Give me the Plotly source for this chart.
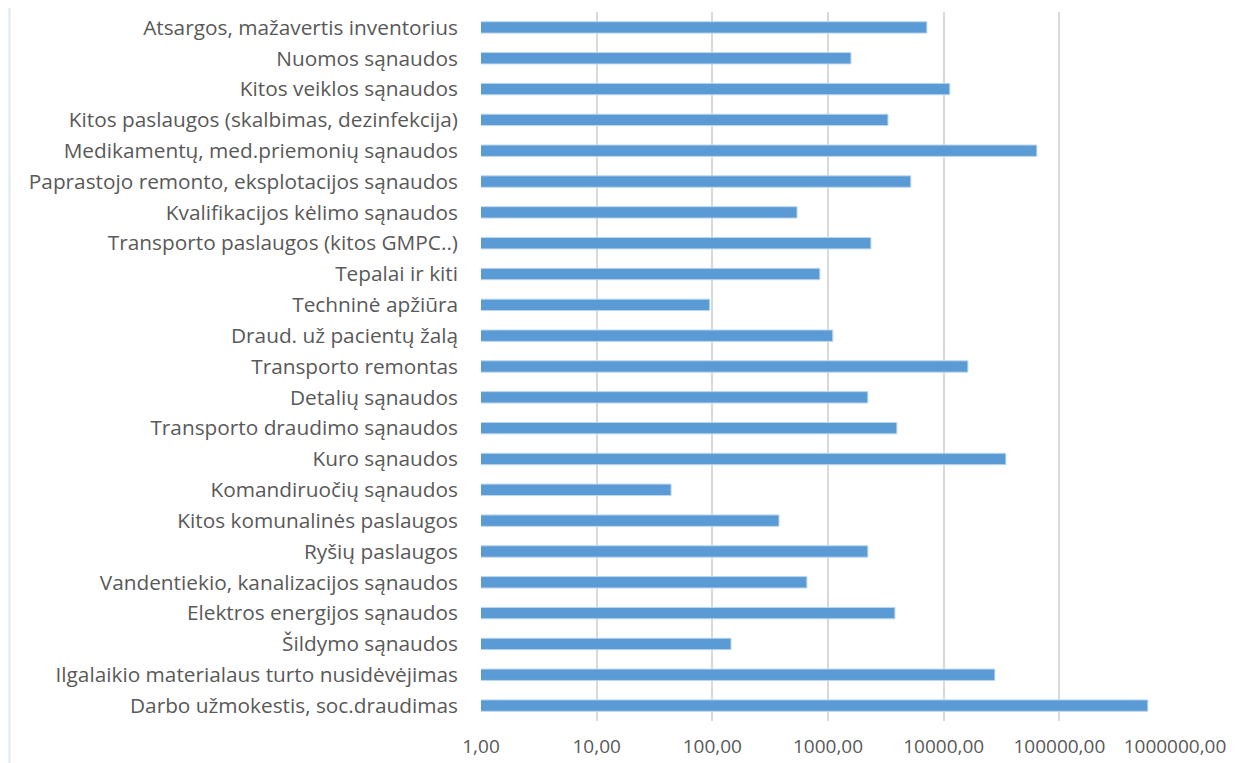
import plotly.graph_objects as go

categories = [
    "Atsargos, mažavertis inventorius",
    "Nuomos sąnaudos",
    "Kitos veiklos sąnaudos",
    "Kitos paslaugos (skalbimas, dezinfekcija)",
    "Medikamentų, med.priemonių sąnaudos",
    "Paprastojo remonto, eksplotacijos sąnaudos",
    "Kvalifikacijos kėlimo sąnaudos",
    "Transporto paslaugos (kitos GMPC..)",
    "Tepalai ir kiti",
    "Techninė apžiūra",
    "Draud. už pacientų žalą",
    "Transporto remontas",
    "Detalių sąnaudos",
    "Transporto draudimo sąnaudos",
    "Kuro sąnaudos",
    "Komandiruočių sąnaudos",
    "Kitos komunalinės paslaugos",
    "Ryšių paslaugos",
    "Vandentiekio, kanalizacijos sąnaudos",
    "Elektros energijos sąnaudos",
    "Šildymo sąnaudos",
    "Ilgalaikio materialaus turto nusidėvėjimas",
    "Darbo užmokestis, soc.draudimas",
]
values = [7160, 1580, 11300, 3300, 63900, 5200, 540, 2350, 850, 95, 1100,
          16200, 2210, 3940, 34500, 44, 377, 2210, 657, 3790, 145, 27700, 582000]

tick_vals = [1, 10, 100, 1000, 10000, 100000, 1000000]
tick_text = ["1,00", "10,00", "100,00", "1000,00", "10000,00", "100000,00", "1000000,00"]

font_family = "Open Sans, Lato, sans-serif"

fig = go.Figure(go.Bar(
    y=categories, x=values, orientation="h",
    marker=dict(color="#5B9BD5", line=dict(color="#BDD7EE", width=1)),
    width=0.37,
))

fig.update_layout(
    width=1227, height=755,
    margin=dict(l=473, r=60, t=4, b=42),
    paper_bgcolor="white", plot_bgcolor="white",
    showlegend=False,
    font=dict(family=font_family, color="#595959", size=16),
    xaxis=dict(
        type="log", range=[0, 6], tickvals=tick_vals, ticktext=tick_text,
        showgrid=True, gridcolor="#D9D9D9", gridwidth=1.5, zeroline=False,
        showline=False, ticks="", ticklabelstandoff=12,
        tickfont=dict(size=19, color="#595959"),
    ),
    yaxis=dict(
        autorange="reversed", showgrid=False, showline=False, ticks="",
        ticklabelstandoff=22, tickfont=dict(size=20.8, color="#595959"),
    ),
    shapes=[dict(type="line", xref="paper", yref="paper",
                 x0=-0.6794, x1=-0.6794, y0=-0.07, y1=1.02,
                 line=dict(color="#DAE6F3", width=2))],
)

fig.write_html("out.html")
